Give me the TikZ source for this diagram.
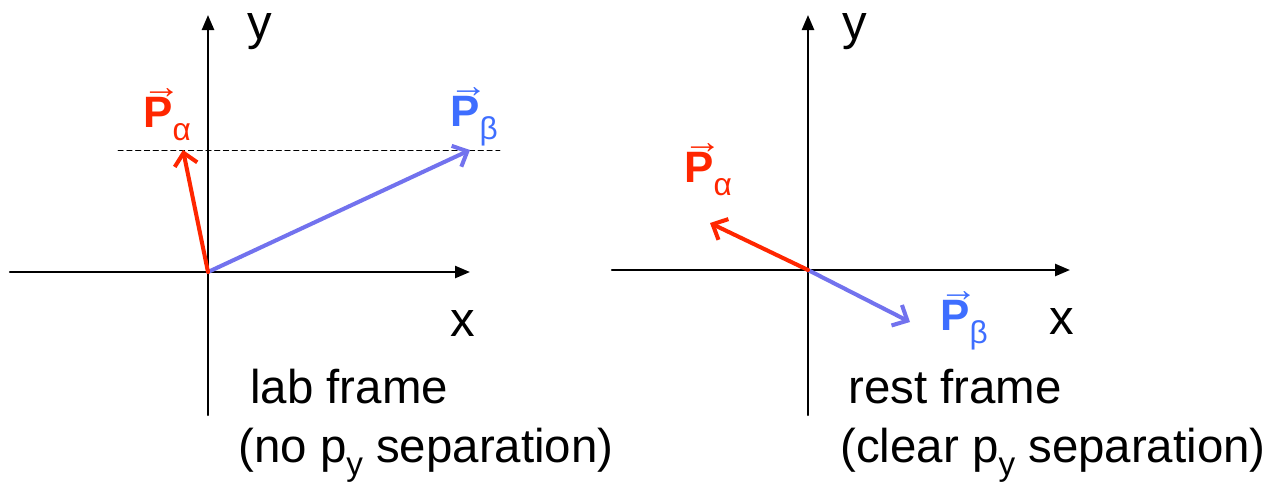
\documentclass[tikz,border=0pt]{standalone}
\usepackage{fontspec}
\setmainfont{Liberation Sans}
\usetikzlibrary{arrows.meta}
\definecolor{pred}{RGB}{255,38,0}
\definecolor{parrow}{RGB}{114,114,238}
\definecolor{plabel}{RGB}{62,110,255}
\tikzset{
  axis/.style={line width=1.4pt,-{Triangle[length=0.3cm,width=0.24cm]}},
  vec/.style={line width=2.3pt,-{Straight Barb[length=0.24cm,width=0.46cm]}},
  axlabel/.style={font=\fontsize{28}{32}\selectfont,inner sep=0pt,anchor=base},
  caption/.style={font=\fontsize{27}{31}\selectfont,anchor=base west,inner sep=0pt},
  plbl/.style={font=\fontsize{25}{29}\selectfont,inner sep=0pt,anchor=base west}
}
\newcommand{\pvec}[1]{{\bfseries\makebox[0pt][l]{\hspace{-0.03em}\raisebox{0.66em}{\scalebox{0.88}[0.8]{→}}}P}\raisebox{-0.3em}{\scalebox{0.72}{#1}}}
\newcommand{\psub}[1]{p\raisebox{-0.28em}{\scalebox{0.7}{#1}}}
\begin{document}
\begin{tikzpicture}[x=0.02cm,y=-0.02cm,line cap=round,line join=round]
  \useasboundingbox (0,0) rectangle (1274,481);

  % lab frame
  \coordinate (oL) at (208,272);
  \coordinate (yL) at (208,15);
  \coordinate (yLb) at (208,415);
  \coordinate (xL) at (470,272);
  \coordinate (xLb) at (10,272);
  \draw[axis] (yLb) -- (yL);
  \draw[axis] (xLb) -- (xL);
  \node[axlabel] (ylabL) at (260,39) {y};
  \node[axlabel] (xlabL) at (463,336) {x};

  \coordinate (dashA) at (118,150);
  \coordinate (dashB) at (500,150);
  \draw[line width=0.5pt,dash pattern=on 3pt off 2pt] (dashA) -- (dashB);

  \coordinate (paL) at (183,150);
  \coordinate (pbL) at (470,150);
  \draw[vec,parrow] (oL) -- (pbL);
  \draw[vec,pred] (oL) -- (paL);
  \node[plbl,pred] (paLlab) at (143,127) {\pvec{α}};
  \node[plbl,plabel] (pbLlab) at (450,126) {\pvec{β}};

  \node[caption] (labA) at (250,403) {lab frame};
  \node[caption] (labB) at (238,462) {(no \psub{y} separation)};

  % rest frame
  \coordinate (oR) at (808,270);
  \coordinate (yR) at (808,15);
  \coordinate (yRb) at (808,415);
  \coordinate (xR) at (1070,270);
  \coordinate (xRb) at (612,270);
  \draw[axis] (yRb) -- (yR);
  \draw[axis] (xRb) -- (xR);
  \node[axlabel] (ylabR) at (855,39) {y};
  \node[axlabel] (xlabR) at (1062,334) {x};

  \coordinate (paR) at (710,223);
  \coordinate (pbR) at (910,322);
  \draw[vec,parrow] (oR) -- (pbR);
  \draw[vec,pred] (oR) -- (paR);
  \node[plbl,pred] (paRlab) at (684,182) {\pvec{α}};
  \node[plbl,plabel] (pbRlab) at (940,330) {\pvec{β}};

  \node[caption] (restA) at (848,403) {rest frame};
  \node[caption] (restB) at (840,462) {(clear \psub{y} separation)};
\end{tikzpicture}
\end{document}
